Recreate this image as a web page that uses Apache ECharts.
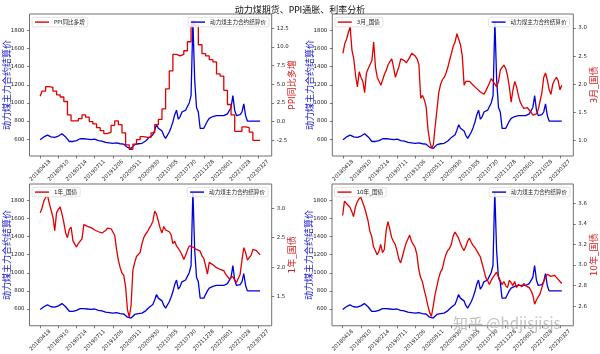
<!DOCTYPE html>
<html>
<head>
<meta charset="utf-8">
<script src="https://cdn.jsdelivr.net/npm/echarts@6/dist/echarts.min.js"></script>
<style>
    html, body { margin: 0; padding: 0; background: #fff; }
    #main { width: 600px; height: 354px; }
</style>
</head>
<body>
<div id="main"></div>
<script>
// one sample every ~10 trading days, 20180418 .. 20230327
var dateLabels = ['20180418', '20180910', '20190214', '20190711', '20191206', '20200511', '20200930',
    '20210305', '20210730', '20211228', '20220601', '20221028', '20230327'];

// 动力煤主力合约结算价
var coal = [
    595, 585, 625, 640, 645, 635, 625, 605, 620, 628,
    635, 645, 660, 640, 625, 600, 575, 570, 575, 580,
    585, 595, 605, 615, 605, 610, 600, 605, 595, 590,
    600, 590, 585, 590, 580, 575, 565, 570, 560, 555,
    555, 560, 560, 555, 550, 560, 545, 530, 510, 490,
    500, 520, 540, 545, 550, 555, 555, 565, 580, 600,
    620, 630, 650, 700, 760, 720, 700, 690, 640, 610,
    630, 680, 730, 790, 870, 920, 820, 850, 900, 880,
    920, 960, 1000, 1080, 1900, 1250, 950, 900, 720, 700,
    720, 760, 800, 830, 820, 850, 840, 860, 850, 860,
    870, 860, 870, 880, 870, 950, 1080, 920, 860, 880,
    870, 900, 990, 860, 800, 800, 800, 800, 800, 800,
    800, 800
];

// PPI同比 (monthly, held as steps)
var ppi = [
    3.4, 4.1, 4.1, 4.7, 4.7, 4.6, 4.6, 4.1, 4.1, 3.6, 3.6, 3.3, 3.3, 2.7, 2.7, 0.9, 0.9,
    0.1, 0.1, 0.1, 0.1, 0.4, 0.4, 0.9, 0.9, 0.6, 0.6, 0.0, 0.0, -0.3, -0.3, -0.8, -0.8, -1.2, -1.2, -1.6, -1.6, -1.4, -1.4, -0.5, -0.5,
    0.1, 0.1, -0.4, -0.4, -1.5, -1.5, -3.1, -3.1, -3.7, -3.7, -3.0, -3.0, -2.4, -2.4, -2.0, -2.0, -2.1, -2.1, -2.1, -2.1, -1.5, -1.5, -0.4, -0.4,
    0.3, 0.3, 1.7, 1.7, 4.4, 4.4, 6.8, 6.8, 9.0, 9.0, 8.8, 8.8, 9.0, 9.0, 9.5, 9.5, 10.7, 10.7, 13.5, 13.5, 12.9, 12.9, 10.3, 10.3,
    9.1, 9.1, 8.8, 8.8, 8.3, 8.3, 8.0, 8.0, 6.4, 6.4, 6.1, 6.1, 4.2, 4.2, 2.3, 2.3, 0.9, 0.9, -1.3, -1.3, -1.3, -1.3, -0.7, -0.7,
    -0.8, -0.8, -1.4, -1.4, -2.5, -2.5, -2.5, -2.5, -2.5
];

var cgb3m = [
    2.55, 2.72, 2.80, 2.92, 3.02, 2.60, 2.45, 2.15, 1.95, 2.22,
    2.12, 2.05, 1.85, 2.20, 2.28, 2.35, 2.42, 2.75, 2.30, 2.12,
    2.05, 1.98, 2.00, 2.18, 2.25, 2.35, 2.40, 2.45, 2.30, 2.12,
    2.10, 2.32, 2.45, 2.48, 2.42, 2.38, 2.40, 2.48, 2.55, 2.52,
    2.50, 2.45, 2.35, 1.75, 1.80, 1.72, 1.60, 1.20, 0.98, 0.86,
    0.92, 1.25, 1.55, 1.85, 2.00, 2.08, 2.12, 2.20, 2.30, 2.43,
    2.55, 2.68, 2.75, 2.90, 2.80, 2.70, 2.50, 1.98, 2.05, 2.07,
    2.05, 2.02, 1.98, 1.97, 1.92, 1.90, 1.86, 1.84, 1.82, 1.88,
    1.95, 2.02, 2.10, 2.08, 2.00, 1.95, 2.05, 2.25, 2.30, 2.34,
    2.28, 2.15, 1.95, 1.68, 1.90, 2.05, 1.95, 1.80, 1.68, 1.62,
    1.57, 1.55, 1.58, 1.54, 1.50, 1.45, 1.44, 1.47, 1.55, 1.70,
    1.85, 2.12, 2.20, 2.07, 1.90, 1.82, 2.00, 2.07, 2.12, 2.06,
    1.90, 1.98
];

var cgb1y = [
    2.92, 3.00, 3.12, 3.18, 3.22, 3.08, 3.06, 2.85, 2.62, 2.92,
    2.98, 3.02, 2.90, 2.76, 2.58, 2.50, 2.64, 2.68, 2.45, 2.39,
    2.34, 2.40, 2.44, 2.48, 2.72, 2.71, 2.69, 2.71, 2.67, 2.64,
    2.63, 2.61, 2.60, 2.63, 2.58, 2.55, 2.62, 2.66, 2.66, 2.65,
    2.62, 2.54, 2.30, 2.12, 1.99, 1.90, 1.86, 1.66, 1.28, 1.15,
    1.35, 1.95, 2.08, 2.18, 2.21, 2.25, 2.40, 2.50, 2.56, 2.60,
    2.66, 2.71, 2.78, 2.95, 2.90, 2.78, 2.66, 2.58, 2.69, 2.63,
    2.63, 2.60, 2.55, 2.40, 2.44, 2.36, 2.33, 2.27, 2.21, 2.13,
    2.20, 2.29, 2.36, 2.38, 2.34, 2.35, 2.30, 2.29, 2.27, 2.19,
    2.15, 2.02, 1.88, 2.08, 2.07, 2.04, 2.06, 1.99, 2.00, 1.96,
    1.93, 1.94, 1.88, 1.87, 1.80, 1.78, 1.84, 1.78, 1.74, 1.71,
    1.88, 2.12, 2.33, 2.25, 2.12, 2.16, 2.20, 2.30, 2.31, 2.28,
    2.24, 2.21
];

var cgb10y = [
    3.48, 3.62, 3.63, 3.58, 3.56, 3.52, 3.47, 3.56, 3.61, 3.64,
    3.66, 3.61, 3.56, 3.50, 3.43, 3.33, 3.28, 3.18, 3.14, 3.10,
    3.13, 3.20, 3.12, 3.15, 3.33, 3.42, 3.35, 3.27, 3.23, 3.20,
    3.14, 3.06, 3.02, 3.08, 3.15, 3.21, 3.25, 3.29, 3.23, 3.20,
    3.17, 3.10, 2.96, 2.88, 2.84, 2.76, 2.69, 2.61, 2.54, 2.50,
    2.60, 2.71, 2.79, 2.87, 2.93, 2.96, 3.04, 3.10, 3.14, 3.16,
    3.20, 3.28, 3.32, 3.31, 3.26, 3.21, 3.17, 3.14, 3.18, 3.23,
    3.26, 3.22, 3.19, 3.17, 3.16, 3.11, 3.08, 3.08, 2.95, 2.88,
    2.85, 2.81, 2.85, 2.88, 2.89, 2.93, 2.89, 2.85, 2.81, 2.84,
    2.80, 2.78, 2.85, 2.83, 2.80, 2.84, 2.78, 2.81, 2.80, 2.79,
    2.82, 2.80, 2.81, 2.78, 2.75, 2.71, 2.62, 2.66, 2.69, 2.72,
    2.78, 2.84, 2.88, 2.91, 2.91, 2.89, 2.88, 2.90, 2.88, 2.86,
    2.84, 2.82
];

var coalTicks = [600, 800, 1000, 1200, 1400, 1600, 1800];
var ppiTicks = [-2.5, 0, 2.5, 5, 7.5, 10, 12.5];
var m3Ticks = [1.0, 1.5, 2.0, 2.5, 3.0];
var y1Ticks = [1.5, 2.0, 2.5, 3.0];
var y10Ticks = [2.6, 2.8, 3.0, 3.2, 3.4, 3.6];

var coalName = '动力煤主力合约结算价';
var dateTicks = dateLabels.map(function (d, i) { return i * 10 });

var panels = [
    {grid: {left: 29.5, top: 14, width: 242.2, height: 142}, name: 'PPI同比多增', data: ppi, ticks: ppiTicks, min: -4.6, max: 14.42, step: 'end', legRight: 331},
    {grid: {left: 332.3, top: 14, width: 241, height: 142}, name: '3月_国债', data: cgb3m, ticks: m3Ticks, min: 0.72, max: 3.25, step: false, legRight: 30.5},
    {grid: {left: 29.5, top: 184, width: 242.2, height: 142.7}, name: '1年_国债', data: cgb1y, ticks: y1Ticks, min: 1.005, max: 3.41, step: false, legRight: 332},
    {grid: {left: 332, top: 184, width: 241.3, height: 142.7}, name: '10年_国债', data: cgb10y, ticks: y10Ticks, min: 2.41, max: 3.786, step: false, legRight: 30}
];

function pairs(arr) {
    return arr.map(function (v, i) { return [i, v] })
}

var tickStyle = {length: 2.5, lineStyle: {color: '#444', width: 0.7}};
var labelFont = {fontSize: 5.4, color: '#222'};
var legendBase = {
    orient: 'horizontal',
    icon: 'rect',
    padding: [2, 3],
    itemWidth: 14,
    itemHeight: 1.4,
    itemGap: 0,
    backgroundColor: 'rgba(255,255,255,0.85)',
    borderColor: '#cfcfcf',
    borderWidth: 0.6,
    borderRadius: 2,
    textStyle: {fontSize: 5.6, color: '#222'}
};

var grids = [], xAxes = [], yAxes = [], series = [], legends = [];
panels.forEach(function (p, k) {
    grids.push(Object.assign({show: true, borderColor: '#707070', borderWidth: 1, backgroundColor: '#fff'}, p.grid));
    xAxes.push({
        type: 'value', gridIndex: k, min: -5.88, max: 127.36,
        splitLine: {show: false}, axisLine: {show: false, onZero: false},
        axisTick: Object.assign({show: true, customValues: dateTicks}, tickStyle),
        axisLabel: Object.assign({
            customValues: dateTicks, rotate: 45, align: 'center', verticalAlign: 'middle', margin: 14.5,
            formatter: function (v) { return dateLabels[Math.round(v / 10)] }
        }, labelFont)
    });
    yAxes.push({
        type: 'value', gridIndex: k, position: 'left', min: 415, max: 1980,
        name: coalName, nameLocation: 'middle', nameGap: 17.5, nameRotate: 90, nameMoveOverlap: false,
        nameTextStyle: {color: '#1414d2', fontSize: 9},
        splitLine: {show: false}, axisLine: {show: false, onZero: false},
        axisTick: Object.assign({show: true, customValues: coalTicks}, tickStyle),
        axisLabel: Object.assign({customValues: coalTicks, margin: 5, formatter: function (v) { return String(v) }}, labelFont)
    });
    yAxes.push({
        type: 'value', gridIndex: k, position: 'right', min: p.min, max: p.max,
        name: p.name, nameLocation: 'middle', nameGap: 16.5, nameRotate: 90, nameMoveOverlap: false,
        nameTextStyle: {color: '#d42020', fontSize: 9},
        splitLine: {show: false}, axisLine: {show: false, onZero: false},
        axisTick: Object.assign({show: true, customValues: p.ticks}, tickStyle),
        axisLabel: Object.assign({customValues: p.ticks, margin: 5, formatter: function (v) { return v.toFixed(1) }}, labelFont)
    });
    series.push({
        type: 'line', name: coalName, xAxisIndex: k, yAxisIndex: 2 * k,
        data: pairs(coal), symbol: 'none', z: 2,
        lineStyle: {color: '#0000dd', width: 1.3}, itemStyle: {color: '#0000dd'}
    });
    series.push({
        type: 'line', name: p.name, xAxisIndex: k, yAxisIndex: 2 * k + 1,
        data: pairs(p.data), step: p.step, symbol: 'none', z: 3,
        lineStyle: {color: '#e00000', width: 1.3}, itemStyle: {color: '#e00000'}
    });
    legends.push(Object.assign({}, legendBase, {data: [p.name], left: p.grid.left + 2.5, top: p.grid.top + 3.3}));
    legends.push(Object.assign({}, legendBase, {data: [coalName], right: p.legRight, top: p.grid.top + 3.3}));
});

var chart = echarts.init(document.getElementById('main'));
chart.setOption({
    animation: false,
    backgroundColor: '#fff',
    textStyle: {fontFamily: 'DejaVu Sans, "Noto Sans CJK SC", sans-serif'},
    title: {
        text: '动力煤期货、PPI通胀、利率分析', left: 'center', top: 1.5,
        textStyle: {fontSize: 9, fontWeight: 'normal', color: '#111'}
    },
    grid: grids,
    xAxis: xAxes,
    yAxis: yAxes,
    legend: legends,
    series: series,
    graphic: [{
        type: 'text', left: 453, top: 316, z: 100,
        style: {text: '知乎 @hdjisjisjs', fontSize: 15, fill: 'rgba(165,165,165,0.7)', fontFamily: '"Noto Sans CJK SC", sans-serif'}
    }]
});
</script>
</body>
</html>
